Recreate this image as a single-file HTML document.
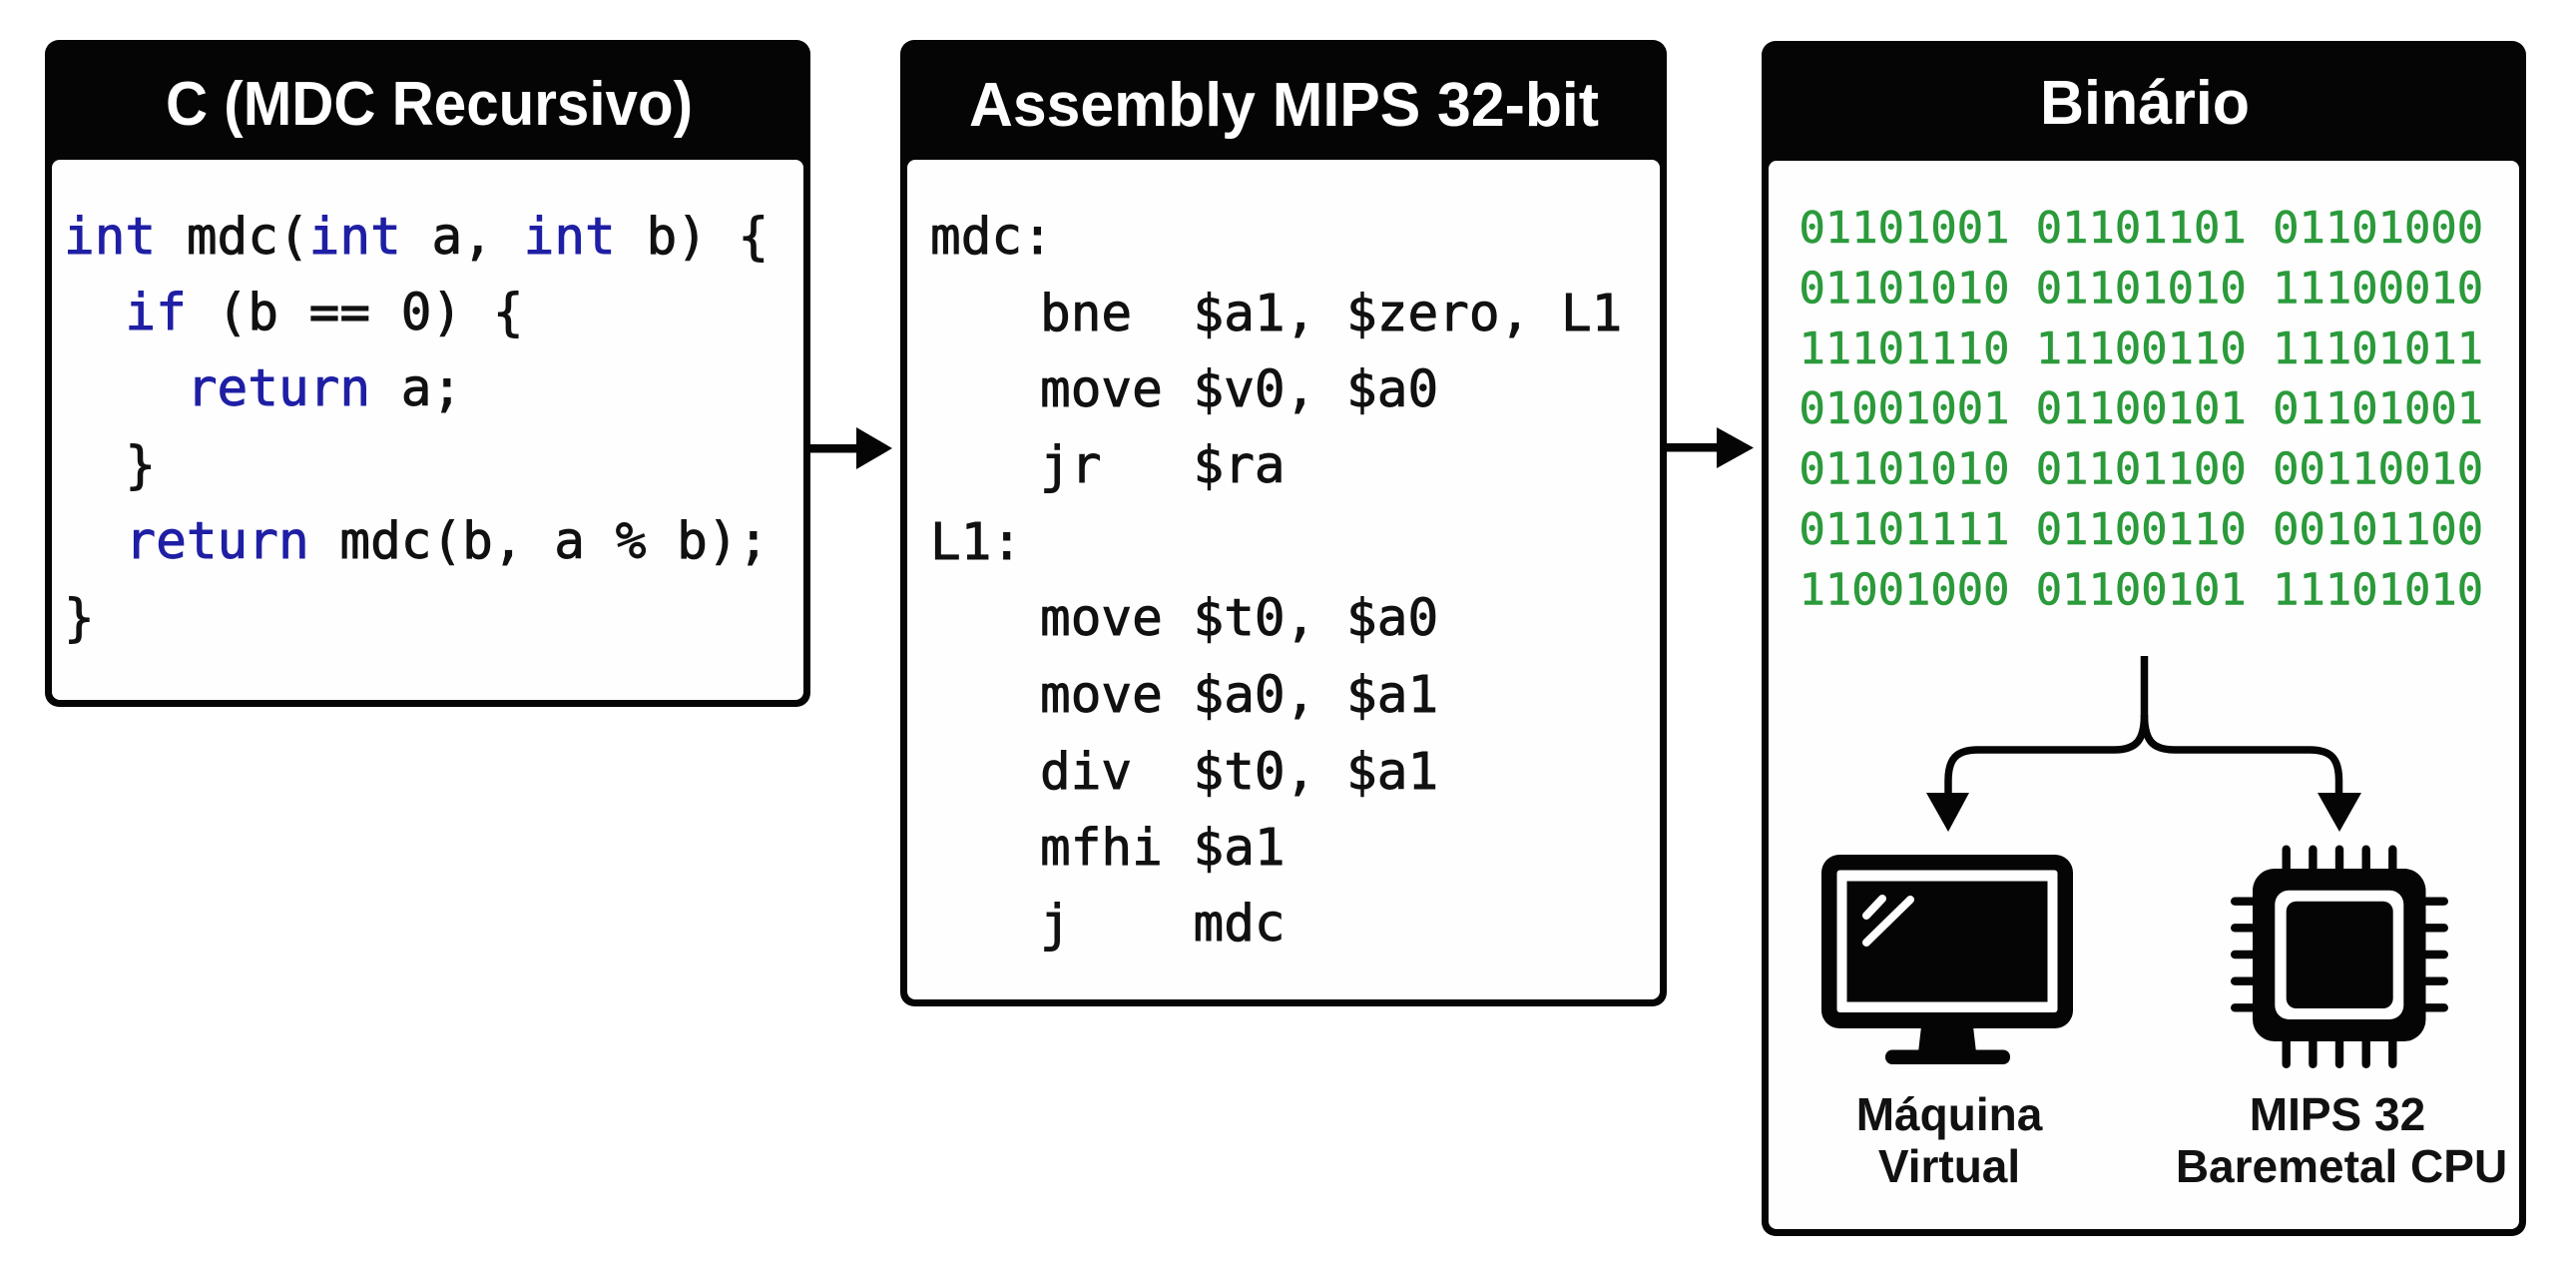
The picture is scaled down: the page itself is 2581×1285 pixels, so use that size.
<!DOCTYPE html>
<html>
<head>
<meta charset="utf-8">
<style>
  html, body { margin:0; padding:0; background:#ffffff; }
  body { width:2581px; height:1285px; overflow:hidden; }
  svg { display:block; }
  .title { font-family:"Liberation Sans", "DejaVu Sans", sans-serif; font-weight:bold; font-size:62px; fill:#ffffff; }
  .code { font-family:"DejaVu Sans Mono", "Liberation Mono", monospace; font-size:51px; fill:#111111; stroke:#111111; stroke-width:0.9px; white-space:pre; }
  .kw { fill:#1f1fa5; stroke:#1f1fa5; }
  .bin { font-family:"DejaVu Sans Mono", "Liberation Mono", monospace; font-size:43.8px; fill:#2b9a3b; stroke:#2b9a3b; stroke-width:0.6px; white-space:pre; }
  .lbl { font-family:"Liberation Sans", "DejaVu Sans", sans-serif; font-weight:bold; font-size:46px; fill:#111111; }
</style>
</head>
<body>
<svg width="2581" height="1285" viewBox="0 0 2581 1285" xmlns="http://www.w3.org/2000/svg">
  <rect x="0" y="0" width="2581" height="1285" fill="#ffffff"/>

  <!-- Box 1 -->
  <rect x="45" y="40" width="767" height="668" rx="14" fill="#050505"/>
  <rect x="52" y="160" width="753" height="541" rx="8" fill="#fefefe"/>
  <text class="title" x="166" y="125" textLength="528" lengthAdjust="spacingAndGlyphs">C (MDC Recursivo)</text>
  <text class="code" xml:space="preserve" x="64" y="254"><tspan class="kw">int</tspan> mdc(<tspan class="kw">int</tspan> a, <tspan class="kw">int</tspan> b) {</text>
  <text class="code" xml:space="preserve" x="64" y="330">  <tspan class="kw">if</tspan> (b == 0) {</text>
  <text class="code" xml:space="preserve" x="64" y="406">    <tspan class="kw">return</tspan> a;</text>
  <text class="code" xml:space="preserve" x="64" y="483">  }</text>
  <text class="code" xml:space="preserve" x="64" y="559">  <tspan class="kw">return</tspan> mdc(b, a % b);</text>
  <text class="code" xml:space="preserve" x="64" y="636">}</text>

  <!-- Arrow 1 -->
  <rect x="810" y="445" width="52" height="8.5" fill="#050505"/>
  <polygon points="858,428 858,470 894,449" fill="#050505"/>

  <!-- Box 2 -->
  <rect x="902" y="40" width="768" height="968" rx="14" fill="#050505"/>
  <rect x="909" y="160" width="754" height="841" rx="8" fill="#fefefe"/>
  <text class="title" x="971" y="126" textLength="631" lengthAdjust="spacingAndGlyphs">Assembly MIPS 32-bit</text>
  <text class="code" xml:space="preserve" x="932" y="254">mdc:</text>
  <text class="code" xml:space="preserve" x="1042" y="331">bne  $a1, $zero, L1</text>
  <text class="code" xml:space="preserve" x="1042" y="407">move $v0, $a0</text>
  <text class="code" xml:space="preserve" x="1042" y="483">jr   $ra</text>
  <text class="code" xml:space="preserve" x="932" y="560">L1:</text>
  <text class="code" xml:space="preserve" x="1042" y="636">move $t0, $a0</text>
  <text class="code" xml:space="preserve" x="1042" y="713">move $a0, $a1</text>
  <text class="code" xml:space="preserve" x="1042" y="790">div  $t0, $a1</text>
  <text class="code" xml:space="preserve" x="1042" y="866">mfhi $a1</text>
  <text class="code" xml:space="preserve" x="1042" y="942">j    mdc</text>

  <!-- Arrow 2 -->
  <rect x="1668" y="444" width="56" height="8.5" fill="#050505"/>
  <polygon points="1720,428 1720,469 1757,448.5" fill="#050505"/>

  <!-- Box 3 -->
  <rect x="1765" y="41" width="766" height="1197" rx="14" fill="#050505"/>
  <rect x="1772" y="161" width="752" height="1070" rx="8" fill="#fefefe"/>
  <text class="title" x="2044" y="124" textLength="210" lengthAdjust="spacingAndGlyphs">Binário</text>

  <text class="bin" xml:space="preserve" x="1802.5" y="243">01101001 01101101 01101000</text>
  <text class="bin" xml:space="preserve" x="1802.5" y="303.5">01101010 01101010 11100010</text>
  <text class="bin" xml:space="preserve" x="1802.5" y="364">11101110 11100110 11101011</text>
  <text class="bin" xml:space="preserve" x="1802.5" y="424">01001001 01100101 01101001</text>
  <text class="bin" xml:space="preserve" x="1802.5" y="484.5">01101010 01101100 00110010</text>
  <text class="bin" xml:space="preserve" x="1802.5" y="545">01101111 01100110 00101100</text>
  <text class="bin" xml:space="preserve" x="1802.5" y="605.5">11001000 01100101 11101010</text>

  <!-- Branch connector -->
  <path d="M2148.5,657 V716 C2148.5,742 2140,751 2118,751 H1982 C1960,751 1952,760 1952,782 V800" fill="none" stroke="#050505" stroke-width="7.5"/>
  <path d="M2148.5,716 C2148.5,742 2157,751 2179,751 H2314 C2336,751 2343.5,760 2343.5,782 V800" fill="none" stroke="#050505" stroke-width="7.5"/>
  <polygon points="1930,794 1973,794 1952,833" fill="#050505"/>
  <polygon points="2322,794 2366,794 2344,833" fill="#050505"/>

  <!-- Monitor icon -->
  <rect x="1825" y="856" width="252" height="174" rx="18" fill="#050505"/>
  <rect x="1840.5" y="871.5" width="221" height="142.5" rx="3" fill="#fefefe"/>
  <rect x="1850.5" y="882.5" width="201" height="121" fill="#050505"/>
  <line x1="1870" y1="917" x2="1886" y2="900" stroke="#ffffff" stroke-width="8" stroke-linecap="round"/>
  <line x1="1870" y1="944" x2="1914" y2="901" stroke="#ffffff" stroke-width="8" stroke-linecap="round"/>
  <polygon points="1925,1028 1977,1028 1980,1054 1922,1054" fill="#050505"/>
  <rect x="1889" y="1051.5" width="125" height="14.5" rx="7" fill="#050505"/>

  <!-- Chip icon -->
  <g fill="#050505">
    <rect x="2286.5" y="846.5" width="8.4" height="30" rx="4.2"/>
    <rect x="2313.2" y="846.5" width="8.4" height="30" rx="4.2"/>
    <rect x="2339.8" y="846.5" width="8.4" height="30" rx="4.2"/>
    <rect x="2366.5" y="846.5" width="8.4" height="30" rx="4.2"/>
    <rect x="2393.1" y="846.5" width="8.4" height="30" rx="4.2"/>

    <rect x="2286.5" y="1038" width="8.4" height="32" rx="4.2"/>
    <rect x="2313.2" y="1038" width="8.4" height="32" rx="4.2"/>
    <rect x="2339.8" y="1038" width="8.4" height="32" rx="4.2"/>
    <rect x="2366.5" y="1038" width="8.4" height="32" rx="4.2"/>
    <rect x="2393.1" y="1038" width="8.4" height="32" rx="4.2"/>

    <rect x="2235" y="898.5" width="30" height="8.4" rx="4.2"/>
    <rect x="2235" y="925.1" width="30" height="8.4" rx="4.2"/>
    <rect x="2235" y="951.8" width="30" height="8.4" rx="4.2"/>
    <rect x="2235" y="978.5" width="30" height="8.4" rx="4.2"/>
    <rect x="2235" y="1005.1" width="30" height="8.4" rx="4.2"/>

    <rect x="2423" y="898.5" width="30" height="8.4" rx="4.2"/>
    <rect x="2423" y="925.1" width="30" height="8.4" rx="4.2"/>
    <rect x="2423" y="951.8" width="30" height="8.4" rx="4.2"/>
    <rect x="2423" y="978.5" width="30" height="8.4" rx="4.2"/>
    <rect x="2423" y="1005.1" width="30" height="8.4" rx="4.2"/>

    <rect x="2257" y="870" width="173.5" height="173" rx="22"/>
  </g>
  <rect x="2279.3" y="891.7" width="129" height="129.3" rx="14" fill="#fefefe"/>
  <rect x="2290.7" y="902.7" width="107" height="107.3" rx="10" fill="#050505"/>

  <!-- Labels -->
  <text class="lbl" x="1953" y="1132" text-anchor="middle">Máquina</text>
  <text class="lbl" x="1953" y="1184" text-anchor="middle">Virtual</text>
  <text class="lbl" x="2342" y="1132" text-anchor="middle">MIPS 32</text>
  <text class="lbl" x="2346" y="1184" text-anchor="middle">Baremetal CPU</text>
</svg>
</body>
</html>
